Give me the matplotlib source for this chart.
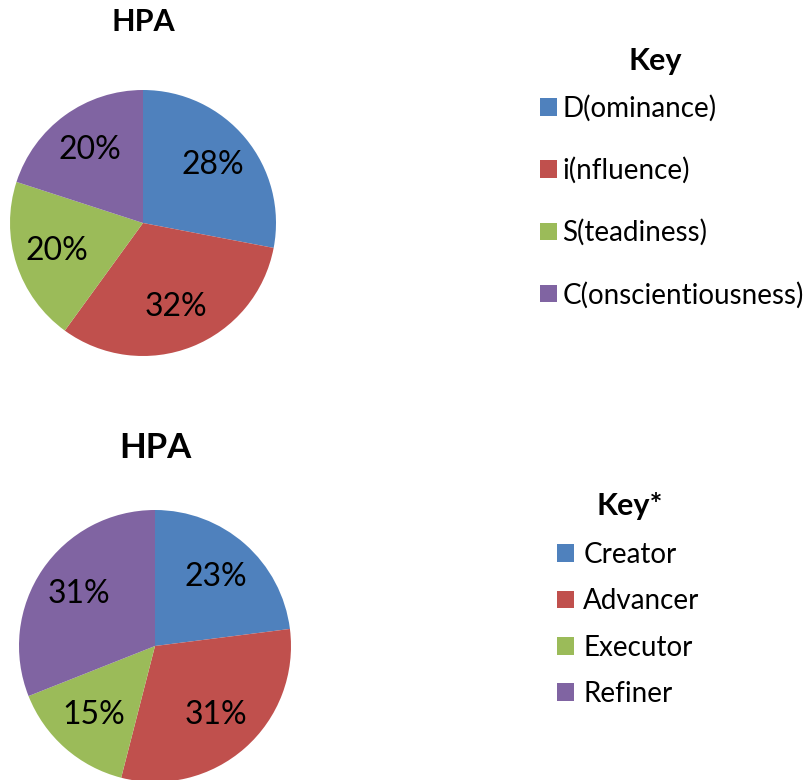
import matplotlib
matplotlib.use("Agg")
from matplotlib import pyplot as plt
from matplotlib.patches import Patch

plt.rcParams['font.family'] = ['Lato', 'DejaVu Sans']

colors = ["#4F81BD", "#C0504D", "#9BBB59", "#8064A2"]

disc_labels = ["D(ominance)", "i(nfluence)", "S(teadiness)", "C(onscientiousness)"]
disc_values = [28, 32, 20, 20]

hpa_labels = ["Creator", "Advancer", "Executor", "Refiner"]
hpa_values = [23, 31, 15, 31]

W, H = 808, 780
fig = plt.figure(figsize=(W / 100, H / 100), dpi=100)


def pie_axes(cx, cy, r):
    # axes box in pixels measured from top-left
    return fig.add_axes([(cx - r) / W, 1 - (cy + r) / H, 2 * r / W, 2 * r / H])


def draw(ax, values):
    wedges, texts, autotexts = ax.pie(values, colors=colors, startangle=90, counterclock=False,
                                      autopct="%d%%", pctdistance=0.68, radius=1,
                                      wedgeprops=dict(linewidth=0),
                                      textprops=dict(fontsize=23, color="black"))
    ax.set_xlim(-1, 1)
    ax.set_ylim(-1, 1)
    ax.set_aspect("equal")
    return wedges


ax1 = pie_axes(143, 223, 133)
draw(ax1, disc_values)
fig.text(143 / W, 1 - 22 / H, "HPA", ha="center", va="center", fontsize=22, fontweight="bold")

ax2 = pie_axes(155, 646, 136)
draw(ax2, hpa_values)
fig.text(155 / W, 1 - 448 / H, "HPA", ha="center", va="center", fontsize=25, fontweight="bold")

handles = [Patch(facecolor=c, edgecolor="none") for c in colors]

fig.text(655 / W, 1 - 61 / H, "Key", ha="center", va="center", fontsize=22, fontweight="bold")
fig.legend(handles, disc_labels, loc="upper left", bbox_to_anchor=(540 / W, 1 - 95 / H),
           frameon=False, fontsize=20, labelspacing=1.27, borderaxespad=0,
           handlelength=0.6, handleheight=0.6, handletextpad=0.2, borderpad=0)

fig.text(630 / W, 1 - 506 / H, "Key*", ha="center", va="center", fontsize=22, fontweight="bold")
fig.legend(handles, hpa_labels, loc="upper left", bbox_to_anchor=(557 / W, 1 - 542 / H),
           frameon=False, fontsize=20, labelspacing=0.73, borderaxespad=0,
           handlelength=0.6, handleheight=0.6, handletextpad=0.35, borderpad=0)

plt.savefig("out.png", dpi=100)
